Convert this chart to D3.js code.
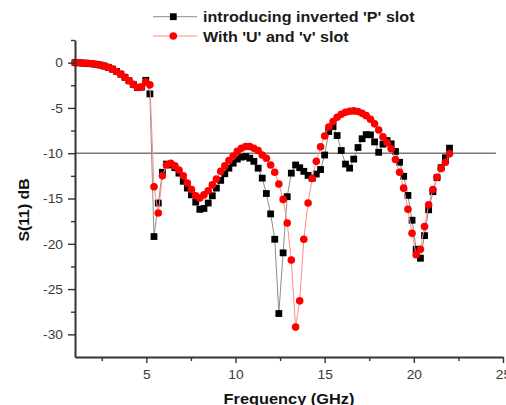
<!DOCTYPE html>
<html><head><meta charset="utf-8">
<script src="https://cdn.jsdelivr.net/npm/d3@7"></script>
<style>body{margin:0;background:#fff} svg{display:block}</style>
</head><body><svg id="c" width="506" height="405"></svg>
<script>
// Frequency sweep (GHz)
const freq = [
 1.00, 1.23, 1.47, 1.70, 1.93, 2.17, 2.40, 2.63, 2.87, 3.10,
 3.33, 3.57, 3.80, 4.03, 4.27, 4.50, 4.73, 4.97, 5.20, 5.43,
 5.67, 5.90, 6.13, 6.37, 6.60, 6.83, 7.07, 7.30, 7.53, 7.77,
 8.00, 8.23, 8.47, 8.70, 8.93, 9.17, 9.40, 9.63, 9.87, 10.10,
 10.33, 10.57, 10.80, 11.03, 11.27, 11.50, 11.73, 11.97, 12.20, 12.43,
 12.67, 12.90, 13.13, 13.37, 13.60, 13.83, 14.07, 14.30, 14.53, 14.77,
 15.00, 15.23, 15.47, 15.70, 15.93, 16.17, 16.40, 16.63, 16.87, 17.10,
 17.33, 17.57, 17.80, 18.03, 18.27, 18.50, 18.73, 18.97, 19.20, 19.43,
 19.67, 19.90, 20.13, 20.37, 20.60, 20.83, 21.07, 21.30, 21.53, 21.77,
 22.00
];
// S11 (dB) : introducing inverted 'P' slot
const s11InvertedP = [
 0.00, -0.02, -0.05, -0.08, -0.12, -0.18, -0.26, -0.37, -0.52, -0.72,
 -0.97, -1.27, -1.62, -2.00, -2.40, -2.75, -2.70, -1.95, -3.45, -19.2,
 -15.5, -12.1, -11.2, -11.3, -11.6, -12.2, -13.1, -13.85, -14.6, -15.4,
 -16.2, -16.1, -15.5, -14.7, -13.85, -13.0, -12.27, -11.65, -11.1, -10.65,
 -10.43, -10.36, -10.55, -10.9, -11.65, -12.75, -14.45, -16.7, -19.5, -27.7,
 -21.0, -14.8, -12.2, -11.3, -11.6, -12.0, -12.45, -12.75, -12.3, -11.8,
 -10.2, -7.6, -7.05, -8.05, -9.7, -11.2, -11.65, -10.65, -9.37, -8.4,
 -7.95, -7.97, -8.75, -9.9, -9.0, -8.6, -8.96, -9.8, -11.0, -12.55,
 -14.66, -17.4, -20.6, -21.6, -19.1, -16.25, -14.25, -12.7, -11.6, -10.5,
 -9.44
];
// S11 (dB) : With 'U' and 'v' slot
const s11UV = [
 0.00, -0.02, -0.05, -0.08, -0.12, -0.18, -0.26, -0.37, -0.52, -0.72,
 -0.97, -1.27, -1.62, -2.00, -2.40, -2.75, -2.70, -2.15, -2.45, -13.7,
 -16.6, -12.5, -11.3, -11.1, -11.4, -11.85, -12.5, -13.3, -14.0, -14.7,
 -14.95, -14.6, -14.15, -13.5, -12.85, -12.0, -11.4, -10.8, -10.3, -9.8,
 -9.45, -9.26, -9.26, -9.45, -9.7, -10.2, -10.55, -11.3, -12.1, -13.4,
 -15.1, -17.7, -21.8, -29.2, -26.3, -19.5, -15.5, -12.8, -10.9, -9.3,
 -8.1, -7.1, -6.5, -6.03, -5.7, -5.48, -5.37, -5.33, -5.4, -5.6,
 -5.85, -6.25, -6.76, -7.43, -8.2, -8.85, -9.5, -10.7, -12.1, -13.86,
 -16.2, -18.85, -21.2, -20.6, -18.1, -15.7, -14.0, -12.65, -11.7, -11.0,
 -10.07
];
const seriesNames = ["introducing inverted 'P' slot", "With 'U' and 'v' slot"];
const xMajor = [5, 10, 15, 20, 25];
const xMinor = [2.5, 7.5, 12.5, 17.5, 22.5];
const yMajor = [0, -5, -10, -15, -20, -25, -30];
const yMinor = [2.5, -2.5, -7.5, -12.5, -17.5, -22.5, -27.5];
const refLevel = -10;
const xTitle = "Frequency (GHz)";
const yTitle = "S(11) dB";

const svg = d3.select("#c");
const x = d3.scaleLinear().domain([1, 25]).range([75, 503]);
const y = d3.scaleLinear().domain([-32.5, 2.5]).range([357, 40]);
const FONT = "Arial, 'Liberation Sans', Helvetica, sans-serif";

// reference line at -10 dB
svg.append("line")
  .attr("x1", x(1)).attr("x2", x(24.6))
  .attr("y1", y(refLevel)).attr("y2", y(refLevel))
  .attr("stroke", "#7a7a7a").attr("stroke-width", 1.4);

const series = [
  {name: seriesNames[0], vals: s11InvertedP, line: "#8c8c8c", fill: "#000", shape: "square"},
  {name: seriesNames[1], vals: s11UV, line: "#ff8c8c", fill: "#ff0000", shape: "circle"}
];

const lineGen = d3.line().x(d => x(d[0])).y(d => y(d[1]));
series.forEach(s => {
  const pts = freq.map((f, i) => [f, s.vals[i]]);
  svg.append("path").datum(pts)
    .attr("d", lineGen).attr("fill", "none")
    .attr("stroke", s.line).attr("stroke-width", 1);
  if (s.shape === "square") {
    svg.append("g").selectAll("rect").data(pts).join("rect")
      .attr("x", d => x(d[0]) - 3.4).attr("y", d => y(d[1]) - 3.4)
      .attr("width", 6.8).attr("height", 6.8).attr("fill", s.fill);
  } else {
    svg.append("g").selectAll("circle").data(pts).join("circle")
      .attr("cx", d => x(d[0])).attr("cy", d => y(d[1]))
      .attr("r", 3.8).attr("fill", s.fill);
  }
});

// axes
const axisColor = "#333";
function styleAxis(g) {
  g.selectAll("path,line").attr("stroke", axisColor);
  g.select(".domain").attr("stroke-width", 2);
  g.selectAll(".tick line").attr("stroke-width", 1.4);
}
const gx = svg.append("g").attr("transform", `translate(0,${y(-32.5)})`)
  .call(d3.axisBottom(x).tickValues(xMajor).tickSize(6).tickSizeOuter(0).tickFormat(d3.format("d")));
gx.call(styleAxis);
gx.selectAll("text")
  .attr("y", 0).attr("dy", 0)
  .attr("transform", "translate(0,21.5) scale(1.15,1)")
  .attr("font-family", FONT).attr("font-size", 12).attr("fill", "#3a3a3a");
const gxm = svg.append("g").attr("transform", `translate(0,${y(-32.5)})`)
  .call(d3.axisBottom(x).tickValues(xMinor).tickSize(4).tickSizeOuter(0).tickFormat(""));
gxm.call(styleAxis); gxm.select(".domain").remove();

const gy = svg.append("g").attr("transform", `translate(${x(1)},0)`)
  .call(d3.axisLeft(y).tickValues(yMajor).tickSize(7).tickSizeOuter(0).tickFormat(d => d3.format("d")(d).replace("−", "-")));
gy.call(styleAxis);
gy.selectAll("text")
  .attr("x", 0).attr("dy", "0.36em")
  .attr("transform", "translate(-12,0) scale(1.15,1)")
  .attr("font-family", FONT).attr("font-size", 12).attr("fill", "#3a3a3a");
const gym = svg.append("g").attr("transform", `translate(${x(1)},0)`)
  .call(d3.axisLeft(y).tickValues(yMinor).tickSize(4).tickSizeOuter(0).tickFormat(""));
gym.call(styleAxis); gym.select(".domain").remove();

// axis titles
svg.append("text").text(xTitle)
  .attr("transform", `translate(289,403.5) scale(1.17,1)`)
  .attr("text-anchor", "middle").attr("font-family", FONT)
  .attr("font-weight", "bold").attr("font-size", 14).attr("fill", "#111");
svg.append("text").text(yTitle)
  .attr("transform", `translate(28.7,210) rotate(-90) scale(1.13,1)`)
  .attr("text-anchor", "middle").attr("font-family", FONT)
  .attr("font-weight", "bold").attr("font-size", 14).attr("fill", "#111");

// legend
const legY = [16.7, 36];
series.forEach((s, i) => {
  const g = svg.append("g");
  g.append("line").attr("x1", 153).attr("x2", 197).attr("y1", legY[i]).attr("y2", legY[i])
    .attr("stroke", s.line).attr("stroke-width", 1);
  if (s.shape === "square") {
    g.append("rect").attr("x", 173.3 - 3.4).attr("y", legY[i] - 3.4)
      .attr("width", 6.8).attr("height", 6.8).attr("fill", s.fill);
  } else {
    g.append("circle").attr("cx", 173.3).attr("cy", legY[i]).attr("r", 3.8).attr("fill", s.fill);
  }
  g.append("text").text(s.name)
    .attr("transform", `translate(203,${legY[i] + 5.7}) scale(1.15,1)`)
    .attr("font-family", FONT).attr("font-weight", "bold").attr("font-size", 14).attr("fill", "#1a1a1a");
});
</script></body></html>
